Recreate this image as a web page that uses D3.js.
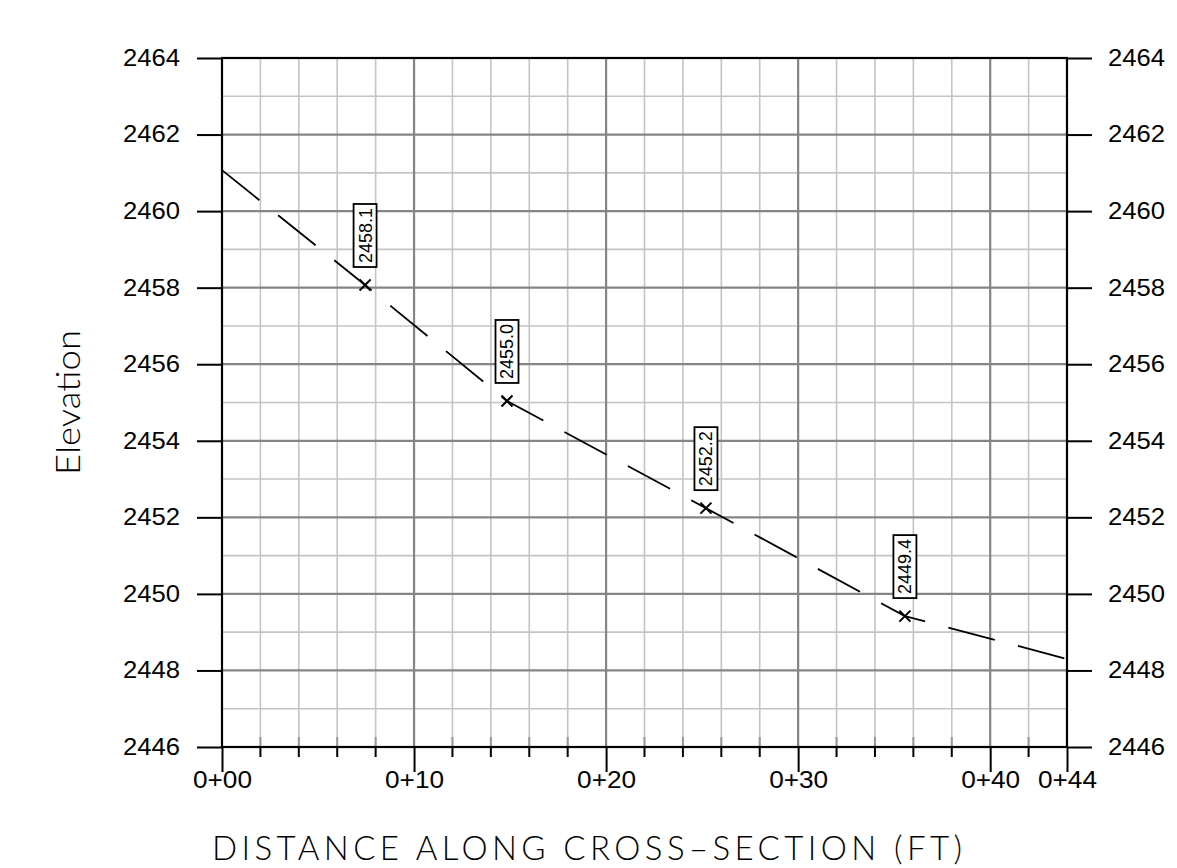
<!DOCTYPE html>
<html>
<head>
<meta charset="utf-8">
<script src="https://cdn.jsdelivr.net/npm/d3@7"></script>
<style>
  body { margin: 0; background: #fff; }
  svg { display: block; }
</style>
</head>
<body>
<script>
var width = 1177;
var height = 868;

// plot frame
var plotLeft = 222, plotRight = 1067, plotTop = 58, plotBottom = 747;

// data
var profileDist = [0, 7.45, 14.84, 25.2, 35.56, 44];
var profileElev = [2461.07, 2458.07, 2455.04, 2452.24, 2449.42, 2448.3];

var pointDist = [7.45, 14.84, 25.2, 35.56];
var pointElev = [2458.07, 2455.04, 2452.24, 2449.42];
var pointLabels = ["2458.1", "2455.0", "2452.2", "2449.4"];

var elevTicks = [2446, 2448, 2450, 2452, 2454, 2456, 2458, 2460, 2462, 2464];
var stationTicks = [0, 10, 20, 30, 40, 44];
var stationLabels = ["0+00", "0+10", "0+20", "0+30", "0+40", "0+44"];

var svg = d3.select("body").append("svg")
  .attr("width", width)
  .attr("height", height);

var xScale = d3.scaleLinear().domain([0, 44]).range([plotLeft, plotRight]);
var yScale = d3.scaleLinear().domain([2446, 2464]).range([plotBottom, plotTop]);

// grid: minor lines first
var minorX = d3.range(2, 44, 2).filter(d => d % 10 != 0);
var majorX = [10, 20, 30, 40];
var minorY = d3.range(2447, 2464, 2);
var majorY = d3.range(2448, 2464, 2);

var grid = svg.append("g");
grid.selectAll(".minor-x").data(minorX).enter().append("line")
  .attr("x1", d => xScale(d)).attr("x2", d => xScale(d))
  .attr("y1", plotTop).attr("y2", plotBottom)
  .attr("stroke", "#c4c4c4").attr("stroke-width", 1.6);
grid.selectAll(".minor-y").data(minorY).enter().append("line")
  .attr("x1", plotLeft).attr("x2", plotRight)
  .attr("y1", d => yScale(d)).attr("y2", d => yScale(d))
  .attr("stroke", "#c4c4c4").attr("stroke-width", 1.6);
grid.selectAll(".major-x").data(majorX).enter().append("line")
  .attr("x1", d => xScale(d)).attr("x2", d => xScale(d))
  .attr("y1", plotTop).attr("y2", plotBottom)
  .attr("stroke", "#858585").attr("stroke-width", 2.2);
grid.selectAll(".major-y").data(majorY).enter().append("line")
  .attr("x1", plotLeft).attr("x2", plotRight)
  .attr("y1", d => yScale(d)).attr("y2", d => yScale(d))
  .attr("stroke", "#858585").attr("stroke-width", 2.2);

// minor ticks on the bottom edge
var minorTicks = svg.append("g");
minorTicks.selectAll(".in").data(minorX).enter().append("line")
  .attr("x1", d => xScale(d)).attr("x2", d => xScale(d))
  .attr("y1", plotBottom - 10).attr("y2", plotBottom)
  .attr("stroke", "#999").attr("stroke-width", 2);
minorTicks.selectAll(".out").data(minorX).enter().append("line")
  .attr("x1", d => xScale(d)).attr("x2", d => xScale(d))
  .attr("y1", plotBottom).attr("y2", plotBottom + 10)
  .attr("stroke", "#000").attr("stroke-width", 2);

// axes
function styleAxis(g, len) {
  g.select(".domain").remove();
  g.selectAll(".tick line").attr("stroke", "#000").attr("stroke-width", 2);
  g.selectAll(".tick text")
    .attr("fill", "#000")
    .style("font-family", "'Liberation Sans', Arial, sans-serif")
    .style("font-size", "23px")
    .attr("textLength", len)
    .attr("lengthAdjust", "spacingAndGlyphs");
}

svg.append("g")
  .attr("transform", "translate(" + plotLeft + ",0)")
  .call(d3.axisLeft(yScale).tickValues(elevTicks).tickSize(25).tickPadding(17).tickFormat(d3.format("d")))
  .call(g => styleAxis(g, 57));

svg.append("g")
  .attr("transform", "translate(" + plotRight + ",0)")
  .call(d3.axisRight(yScale).tickValues(elevTicks).tickSize(25).tickPadding(16).tickFormat(d3.format("d")))
  .call(g => styleAxis(g, 57));

svg.append("g")
  .attr("transform", "translate(0," + plotBottom + ")")
  .call(d3.axisBottom(xScale).tickValues(stationTicks).tickSize(25).tickPadding(0)
    .tickFormat((d, i) => stationLabels[i]))
  .call(g => styleAxis(g, 59));

// frame
svg.append("rect")
  .attr("x", plotLeft).attr("y", plotTop)
  .attr("width", plotRight - plotLeft).attr("height", plotBottom - plotTop)
  .attr("fill", "none").attr("stroke", "#000").attr("stroke-width", 2.2);

// ground profile
var profile = profileDist.map((d, i) => [d, profileElev[i]]);
svg.append("path")
  .datum(profile)
  .attr("d", d3.line().x(d => xScale(d[0])).y(d => yScale(d[1])))
  .attr("fill", "none")
  .attr("stroke", "#000")
  .attr("stroke-width", 1.8)
  .attr("stroke-dasharray", "48,24");

// point markers and labels
var points = svg.append("g").selectAll("g")
  .data(pointDist.map((d, i) => ({ x: d, y: pointElev[i], label: pointLabels[i] })))
  .enter().append("g")
  .attr("transform", d => "translate(" + xScale(d.x) + "," + yScale(d.y) + ")");

points.append("path")
  .attr("d", "M-5.5,-5.5L5.5,5.5M-5.5,5.5L5.5,-5.5")
  .attr("stroke", "#000").attr("stroke-width", 2);

points.append("rect")
  .attr("x", -11.5).attr("y", -18 - 63)
  .attr("width", 23).attr("height", 63)
  .attr("fill", "#fff").attr("stroke", "#000").attr("stroke-width", 1.8);

points.append("text")
  .attr("transform", "translate(6.5," + (-18 - 31.5) + ") rotate(-90)")
  .attr("text-anchor", "middle")
  .style("font-family", "'Liberation Sans', Arial, sans-serif")
  .style("font-size", "18px")
  .attr("textLength", 55)
  .attr("lengthAdjust", "spacingAndGlyphs")
  .text(d => d.label);

// axis titles
svg.append("text")
  .attr("transform", "translate(80," + ((plotTop + plotBottom) / 2) + ") rotate(-90)")
  .attr("text-anchor", "middle")
  .style("font-family", "Lato, 'Liberation Sans', sans-serif")
  .style("font-weight", 300)
  .style("font-size", "34px")
  .attr("textLength", 145)
  .attr("lengthAdjust", "spacingAndGlyphs")
  .text("Elevation");

svg.append("text")
  .attr("x", (212 + 962) / 2)
  .attr("y", 860)
  .attr("text-anchor", "middle")
  .style("font-family", "Lato, 'Liberation Sans', sans-serif")
  .style("font-weight", 300)
  .style("font-size", "33px")
  .attr("textLength", 750)
  .attr("lengthAdjust", "spacing")
  .text("DISTANCE ALONG CROSS\u2013SECTION (FT)");
</script>
</body>
</html>
